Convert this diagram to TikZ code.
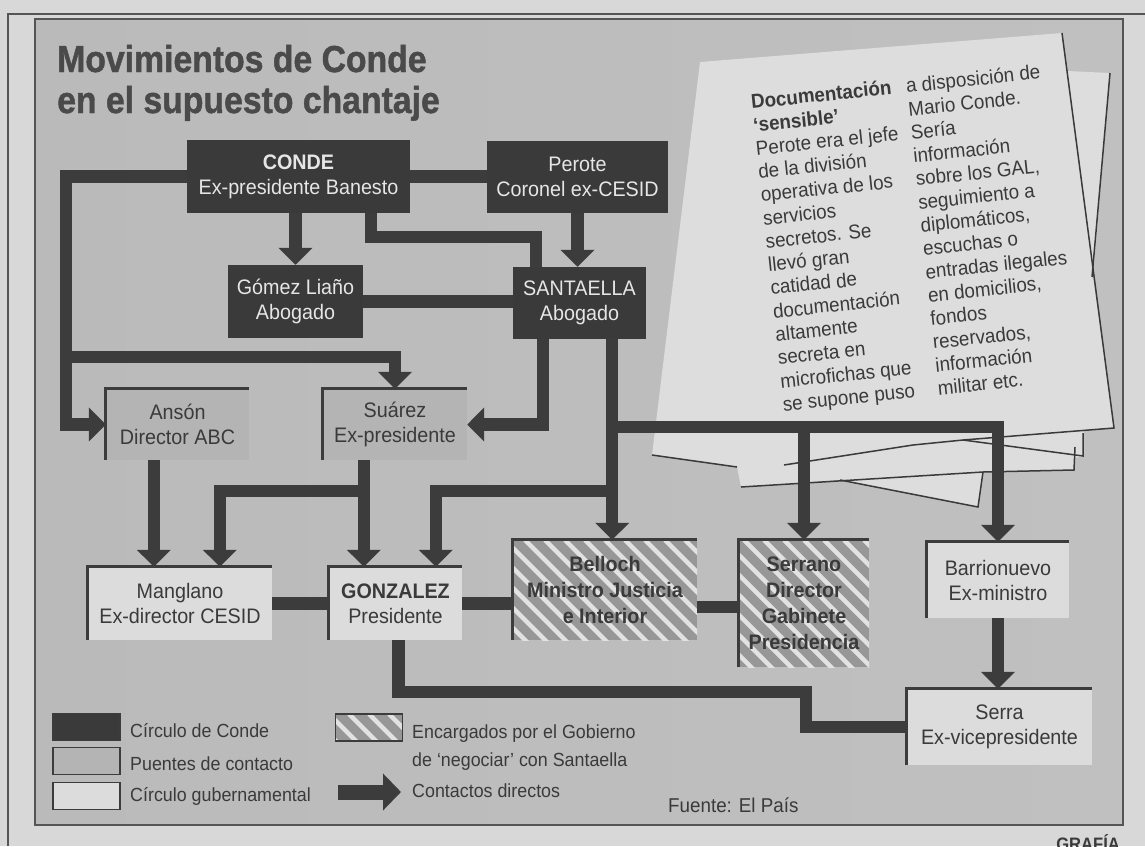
\documentclass[tikz,border=0pt]{standalone}
\usepackage{fontspec}
\setmainfont{Liberation Sans}
\newfontfamily\cf[FakeStretch=0.94]{Liberation Sans}
\newfontfamily\tf[FakeStretch=0.90,FakeBold=1.2]{Liberation Sans}
\newfontfamily\gf[FakeStretch=0.92]{Liberation Sans}
\usetikzlibrary{arrows.meta}
\definecolor{pagebg}{HTML}{D8D8D8}
\definecolor{panelA}{HTML}{BABABA}
\definecolor{panelB}{HTML}{CFCFCF}
\definecolor{panelC}{HTML}{C0C0C0}
\definecolor{framec}{HTML}{555555}
\definecolor{darkc}{HTML}{3A3A3A}
\definecolor{barc}{HTML}{3C3C3C}
\definecolor{lighttxt}{HTML}{E6E6E6}
\definecolor{txtc}{HTML}{3A3A3A}
\definecolor{grayc}{HTML}{B4B4B4}
\definecolor{whitec}{HTML}{DCDCDC}
\definecolor{hgray}{HTML}{979797}
\definecolor{hwhite}{HTML}{E2E2E2}
\definecolor{paperc}{HTML}{DDDDDD}
\definecolor{titlec}{HTML}{4A4A4A}
\begin{document}
\begin{tikzpicture}[x=1pt,y=-1pt,
  box/.style={rectangle, inner sep=0pt, align=center, font=\cf\fontsize{21}{25}\selectfont},
  dbox/.style={box, fill=darkc, text=lighttxt},
  gbox/.style={box, fill=grayc, text=txtc},
  wbox/.style={box, fill=whitec, text=txtc},
  hatch/.style={fill=hgray, path picture={
     \foreach \k in {-14,...,8}{\draw[hwhite,line width=4.5pt] ([xshift={\k*20pt}]path picture bounding box.north) -- ++(170pt,-170pt);}}},
  hbox/.style={box, hatch, text=txtc, font=\cf\bfseries\fontsize{21}{26}\selectfont},
  bar/.style={draw=barc, line width=12.5pt, line join=miter},
  arr/.style={bar, -{Triangle[width=33pt,length=17pt]}},
  edge/.style={draw=barc, line width=3pt},
  lbl/.style={anchor=base west, inner sep=0pt, text=txtc, font=\cf\fontsize{19}{23}\selectfont},
  note/.style={anchor=north west, inner sep=0pt, rotate=6, align=left, text=txtc, font=\cf\fontsize{20}{23.4}\selectfont},
  swatch/.style={rectangle, inner sep=0pt, minimum width=67pt, minimum height=27pt, draw=barc, line width=1.5pt},
  sheetline/.style={draw=darkc, line width=1.5pt}
]
\useasboundingbox (0,0) rectangle (1145,846);
% page background and frame
\fill[pagebg] (0,0) rectangle (1145,846);
\draw[framec, line width=1.5pt] (8,846) -- (8,14) -- (1145,14);
\shade[left color=panelA, middle color=panelB, right color=panelC] (35,19) rectangle (1123,825);
\draw[framec, line width=1.5pt] (35,19) rectangle (1123,825);

% title
\node[anchor=base west, inner sep=0pt, text=titlec, font=\tf\bfseries\fontsize{37.5}{41}\selectfont] (title1) at (57,72) {Movimientos de Conde};
\node[anchor=base west, inner sep=0pt, text=titlec, font=\tf\bfseries\fontsize{37.5}{41}\selectfont] (title2) at (57,113) {en el supuesto chantaje};

% paper stack
\fill[paperc] (700,62) -- (1062,33) -- (1067,71) -- (1110,73) -- (1093,277) -- (1114,428) -- (1084,431) -- (1084,456) -- (1075,458) -- (1074,470) -- (983,472) -- (978,507) -- (840,480) -- (741,487) -- (737,467) -- (652,455) -- cycle;
\draw[sheetline] (1062,33) -- (1114,428) -- (963,440);
\draw[sheetline] (1110,73) -- (1092,277);
\draw[sheetline] (784,465) -- (913,445) -- (963,440);
\draw[sheetline] (963,440) -- (1083,456) -- (1083,433);
\draw[sheetline] (741,487) -- (983,472) -- (1074,470) -- (1075,447);
\draw[sheetline] (840,480) -- (978,507) -- (983,472);
\draw[sheetline] (652,455) -- (737,467);

% note text
\node[note] (noteL) at (750,94) {{\bfseries Documentación}\\{\bfseries ‘sensible’}\\Perote era el jefe\\de la división\\operativa de los\\servicios\\secretos. Se\\llevó gran\\catidad de\\documentación\\altamente\\secreta en\\microfichas que\\se supone puso};
\node[note] (noteR) at (905,78) {a disposición de\\Mario Conde.\\Sería\\información\\sobre los GAL,\\seguimiento a\\diplomáticos,\\escuchas o\\entradas ilegales\\en domicilios,\\fondos\\reservados,\\información\\militar etc.};

% nodes
\node[dbox, minimum width=223pt, minimum height=73pt] (conde) at (298.5,176.5) {{\bfseries CONDE}\\Ex-presidente Banesto};
\node[dbox, minimum width=181pt, minimum height=72pt] (perote) at (577.5,177) {Perote\\Coronel ex-CESID};
\node[dbox, minimum width=135pt, minimum height=73pt] (gomez) at (295.5,301.5) {Gómez Liaño\\Abogado};
\node[dbox, minimum width=133pt, minimum height=72pt] (santaella) at (579.5,303) {SANTAELLA\\Abogado};
\node[gbox, minimum width=143pt, minimum height=71pt] (anson) at (177.5,424.5) {Ansón\\Director ABC};
\node[gbox, minimum width=144pt, minimum height=71pt] (suarez) at (395,424.5) {Suárez\\Ex-presidente};
\node[wbox, minimum width=184pt, minimum height=73pt] (manglano) at (180,603.5) {Manglano\\Ex-director CESID};
\node[wbox, minimum width=133pt, minimum height=73pt] (gonzalez) at (395.5,603.5) {{\bfseries GONZALEZ}\\Presidente};
\node[hbox, minimum width=184pt, minimum height=100pt] (belloch) at (605,590) {Belloch\\Ministro Justicia\\e Interior};
\node[hbox, minimum width=130pt, minimum height=127pt] (serrano) at (804,603.5) {Serrano\\Director\\Gabinete\\Presidencia};
\node[wbox, minimum width=142pt, minimum height=76pt] (barrio) at (998,580) {Barrionuevo\\Ex-ministro};
\node[wbox, minimum width=185pt, minimum height=76pt] (serra) at (999.5,727) {Serra\\Ex-vicepresidente};
\foreach \n in {anson,suarez,manglano,gonzalez,belloch,serrano,barrio,serra}
  \draw[edge] (\n.south west) -- (\n.north west) -- (\n.north east);

% connectors
\draw[arr] (conde.west) -- ++(-121,0) |- (anson.west);
\draw[arr] ([xshift=-121pt,yshift=-180.5pt]conde.west) -| (suarez.north);
\draw[arr] (gomez.north |- conde.south) -- (gomez.north);
\draw[bar] ([xshift=-39pt]conde.south east) |- ([xshift=23pt,yshift=30pt]santaella.north west) -- ([xshift=23pt]santaella.north west);
\draw[bar] (conde.east) -- (conde.east -| perote.west);
\draw[arr] (perote.south) -- (perote.south |- santaella.north);
\draw[bar] (gomez.east) -- (gomez.east -| santaella.west);
\draw[arr] ([xshift=30pt]santaella.south west) |- (suarez.east);
\draw[arr] ([xshift=-34pt]santaella.south east) -- ([xshift=-34pt]santaella.south east |- belloch.north);
\draw[arr] ([xshift=-34pt,yshift=-88pt]santaella.south east) -| (barrio.north);
\draw[arr] ([yshift=113pt]serrano.north) -- (serrano.north);
\draw[arr] ([xshift=-34pt,yshift=-152pt]santaella.south east) -| ([xshift=107pt]gonzalez.north west);
\draw[arr] ([xshift=48pt]anson.south west) -- ([xshift=48pt]anson.south west |- manglano.north);
\draw[arr] ([xshift=41pt]suarez.south west) -- ([xshift=41pt]suarez.south west |- gonzalez.north);
\draw[arr] ([xshift=41pt,yshift=-31pt]suarez.south west) -| ([xshift=132pt]manglano.north west);
\draw[bar] (manglano.east) -- (manglano.east -| gonzalez.west);
\draw[bar] (gonzalez.east) -- (gonzalez.east -| belloch.west);
\draw[bar] ([yshift=-17pt]belloch.east) -- ([yshift=-17pt]belloch.east -| serrano.west);
\draw[arr] (barrio.south) -- (barrio.south |- serra.north);
\draw[bar] ([xshift=3pt]gonzalez.south) |- ([xshift=-101pt,yshift=35pt]serra.west) |- (serra.west);

% legend
\node[swatch, fill=darkc] (sw1) at (86.5,727) {};
\node[swatch, fill=grayc] (sw2) at (86.5,761) {};
\node[swatch, fill=whitec] (sw3) at (86.5,796) {};
\node[swatch, hatch] (sw4) at (369,727.5) {};
\node[lbl] (l1) at (130,737) {Círculo de Conde};
\node[lbl] (l2) at (130,770) {Puentes de contacto};
\node[lbl] (l3) at (130,801) {Círculo gubernamental};
\node[lbl] (l4) at (412,738) {Encargados por el Gobierno};
\node[lbl] (l5) at (412,766) {de ‘negociar’ con Santaella};
\coordinate (ka) at (338,792);
\node[lbl] (l6) at (412,797) {Contactos directos};
\draw[draw=barc, line width=15pt, -{Triangle[width=36pt,length=18pt]}] (ka) -- ([xshift=-11pt]l6.west |- ka);
\node[lbl, font=\cf\fontsize{20}{24}\selectfont] (src) at (668,812) {Fuente: El País};
\node[anchor=base east, inner sep=0pt, text=txtc, font=\gf\bfseries\fontsize{18}{20}\selectfont] (graf) at (1120,850) {GRAFÍA};
\end{tikzpicture}
\end{document}
